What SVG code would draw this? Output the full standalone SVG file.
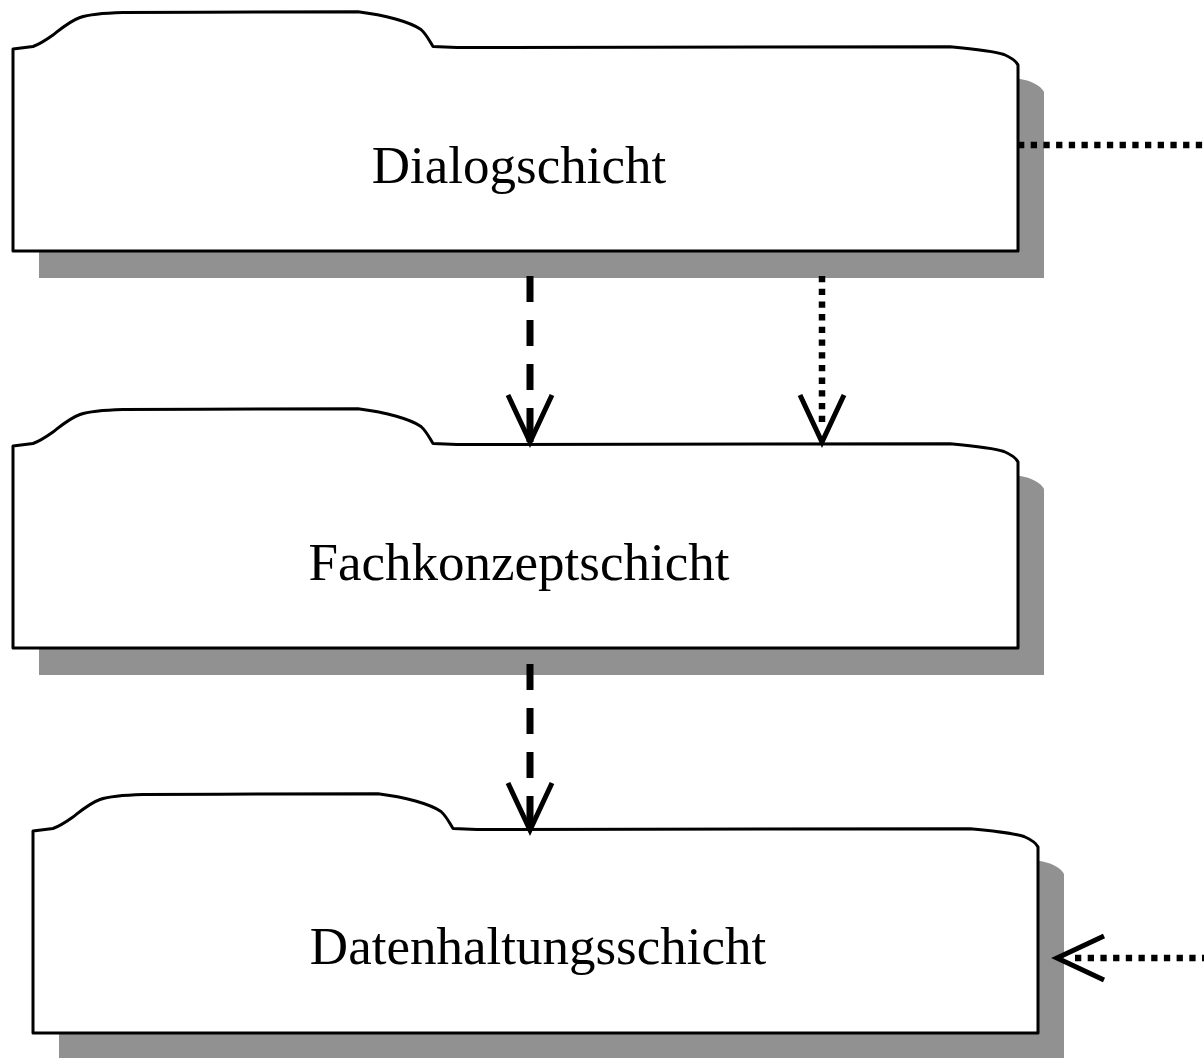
<svg xmlns="http://www.w3.org/2000/svg" xmlns:xlink="http://www.w3.org/1999/xlink" width="1204" height="1058" viewBox="0 0 1204 1058">
<style>
.shadow{fill:#919191;stroke:none}
.box{fill:#ffffff;stroke:#000000;stroke-width:3;stroke-linejoin:round}
.label{font-family:"Liberation Serif","Times New Roman",serif;font-size:53px;fill:#000000;text-anchor:middle}
.dash{stroke:#000000;stroke-width:7;fill:none;stroke-dasharray:26 18 26 18 26 18 40 0}
.dot{stroke:#000000;stroke-width:6.5;fill:none;stroke-dasharray:6.3 6.4}
.head{stroke:#000000;stroke-width:5;fill:none;stroke-linejoin:miter;stroke-linecap:butt}
</style>
<defs>
<path id="pkg" d="M13,49 L33,46.5 C40,44 46,40 53,35 C62,28 70,21 80,17.5 C90,14 105,13 123,12.5 L200,12.2 L358,11.7 C385,15 410,22 421,29.5 C427,35 430,42 433,46.5 L457,47.5 L950,46.7 C975,49 994,51 1004,54.5 C1012,58 1016,61 1018,65 L1018,251 L13,251 Z"/>
<path id="ah" d="M-22,-47 L0,0 L22,-47"/>
</defs>
<g id="dialogschicht">
<use xlink:href="#pkg" href="#pkg" class="shadow" transform="translate(26,27)"/>
<use xlink:href="#pkg" href="#pkg" class="box"/>
<text class="label" x="519" y="183">Dialogschicht</text>
</g>
<g id="fachkonzeptschicht">
<use xlink:href="#pkg" href="#pkg" class="shadow" transform="translate(26,424)"/>
<use xlink:href="#pkg" href="#pkg" class="box" transform="translate(0,397)"/>
<text class="label" x="519" y="580">Fachkonzeptschicht</text>
</g>
<g id="datenhaltungsschicht">
<use xlink:href="#pkg" href="#pkg" class="shadow" transform="translate(46,809)"/>
<use xlink:href="#pkg" href="#pkg" class="box" transform="translate(20,782)"/>
<text class="label" x="538" y="964">Datenhaltungsschicht</text>
</g>
<g id="connectors">
<line class="dash" x1="530" y1="276" x2="530" y2="442"/>
<use xlink:href="#ah" href="#ah" class="head" x="530" y="442"/>
<line class="dot" x1="822" y1="276" x2="822" y2="424"/>
<use xlink:href="#ah" href="#ah" class="head" x="822" y="442"/>
<line class="dash" x1="530" y1="664" x2="530" y2="830"/>
<use xlink:href="#ah" href="#ah" class="head" x="530" y="830"/>
<line class="dot" x1="1018" y1="145" x2="1204" y2="145"/>
<line class="dot" x1="1075" y1="958" x2="1204" y2="958"/>
<use xlink:href="#ah" href="#ah" class="head" transform="translate(1057,958) rotate(90)"/>
</g>
</svg>
